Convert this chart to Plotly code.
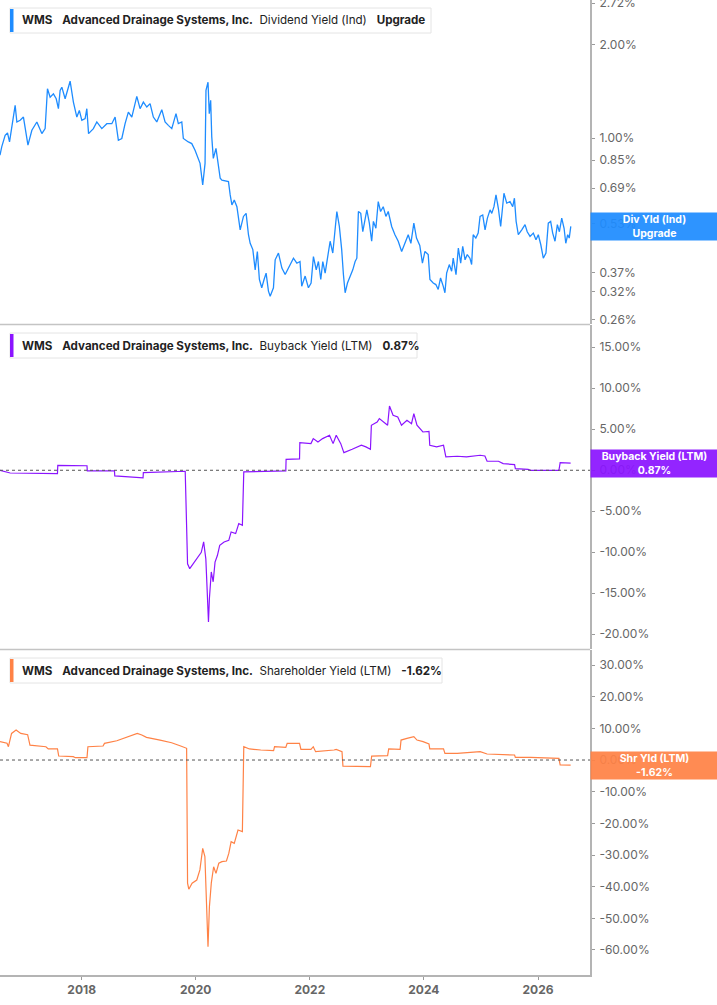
import math
import plotly.graph_objects as go

# ---- data ----
div_dates = [
    "2016-07-27", "2016-08-07", "2016-08-29", "2016-09-13", "2016-09-26", "2016-10-11", "2016-11-01", "2016-11-12",
    "2016-12-03", "2016-12-24", "2017-01-11", "2017-01-22", "2017-02-16", "2017-03-20", "2017-04-21", "2017-05-12",
    "2017-05-27", "2017-06-13", "2017-07-04", "2017-07-22", "2017-08-05", "2017-08-16", "2017-08-27", "2017-09-17",
    "2017-10-19", "2017-11-09", "2017-12-01", "2017-12-17", "2018-01-02", "2018-01-23", "2018-02-03", "2018-02-14",
    "2018-03-17", "2018-04-08", "2018-05-10", "2018-06-11", "2018-07-13", "2018-08-03", "2018-08-24", "2018-09-15",
    "2018-10-06", "2018-10-27", "2018-11-18", "2018-12-20", "2019-01-10", "2019-01-31", "2019-02-22", "2019-03-15",
    "2019-04-05", "2019-04-27", "2019-05-29", "2019-06-19", "2019-07-10", "2019-08-01", "2019-08-28", "2019-09-12",
    "2019-10-04", "2019-10-14", "2019-11-15", "2019-12-07", "2019-12-28", "2020-01-18", "2020-01-29", "2020-02-15",
    "2020-03-01", "2020-03-07", "2020-03-20", "2020-03-28", "2020-04-06", "2020-04-13", "2020-04-23", "2020-05-10",
    "2020-05-26", "2020-06-06", "2020-06-17", "2020-07-29", "2020-08-09", "2020-08-20", "2020-09-04", "2020-09-21",
    "2020-10-12", "2020-11-02", "2020-11-19", "2020-12-04", "2020-12-15", "2021-01-01", "2021-01-16", "2021-01-30",
    "2021-02-12", "2021-02-27", "2021-03-14", "2021-03-27", "2021-04-11", "2021-04-22", "2021-05-13", "2021-05-24",
    "2021-06-14", "2021-07-06", "2021-07-27", "2021-08-10", "2021-08-27", "2021-09-18", "2021-10-10", "2021-10-30",
    "2021-11-10", "2021-12-02", "2021-12-23", "2022-01-09", "2022-01-24", "2022-02-11", "2022-02-25", "2022-03-12",
    "2022-03-25", "2022-04-09", "2022-04-24", "2022-05-11", "2022-05-28", "2022-06-05", "2022-06-23", "2022-07-09",
    "2022-07-24", "2022-08-04", "2022-08-15", "2022-08-30", "2022-09-16", "2022-10-03", "2022-10-18", "2022-10-29",
    "2022-11-08", "2022-11-23", "2022-12-06", "2022-12-21", "2023-01-01", "2023-01-17", "2023-02-01", "2023-02-12",
    "2023-02-28", "2023-03-15", "2023-03-30", "2023-04-16", "2023-05-03", "2023-05-18", "2023-06-09", "2023-06-30",
    "2023-07-21", "2023-08-12", "2023-09-02", "2023-09-23", "2023-10-10", "2023-10-29", "2023-11-15", "2023-12-06",
    "2023-12-23", "2024-01-08", "2024-01-29", "2024-02-09", "2024-03-01", "2024-03-18", "2024-04-02", "2024-04-17",
    "2024-05-04", "2024-05-15", "2024-05-26", "2024-06-12", "2024-06-27", "2024-07-07", "2024-07-25", "2024-08-09",
    "2024-08-24", "2024-09-06", "2024-09-21", "2024-10-05", "2024-10-22", "2024-11-02", "2024-11-12", "2024-11-29",
    "2024-12-14", "2024-12-26", "2025-01-12", "2025-01-27", "2025-02-11", "2025-02-28", "2025-03-11", "2025-03-25",
    "2025-04-07", "2025-04-22", "2025-05-07", "2025-05-20", "2025-05-28", "2025-06-15", "2025-07-06", "2025-07-23",
    "2025-08-03", "2025-08-14", "2025-08-28", "2025-09-19", "2025-10-10", "2025-10-24", "2025-11-11", "2025-12-02",
    "2025-12-19", "2026-01-03", "2026-01-19", "2026-02-04", "2026-02-21", "2026-03-08", "2026-03-23", "2026-04-05",
    "2026-04-20", "2026-05-05", "2026-05-18", "2026-06-02", "2026-06-17", "2026-06-28", "2026-07-10", "2026-07-20",
    "2026-07-30",
]
div_yield = [
    0.882, 0.938, 1.022, 1.040, 0.973, 1.100, 1.276, 1.128,
    1.142, 1.170, 1.035, 0.950, 1.061, 1.128, 1.035, 1.074,
    1.443, 1.356, 1.390, 1.340, 1.245, 1.425, 1.460, 1.340,
    1.526, 1.307, 1.170, 1.229, 1.142, 1.157, 1.245, 1.035,
    1.074, 1.128, 1.074, 1.114, 1.114, 1.170, 0.985, 0.998,
    1.114, 1.214, 1.170, 1.364, 1.245, 1.307, 1.260, 1.292,
    1.170, 1.128, 1.236, 1.128, 1.100, 1.074, 1.200, 1.114,
    1.128, 0.998, 0.973, 0.961, 0.915, 0.861, 0.830, 0.707,
    0.830, 1.425, 1.515, 1.200, 1.324, 1.010, 0.861, 0.927,
    0.810, 0.743, 0.733, 0.725, 0.657, 0.610, 0.633, 0.602,
    0.507, 0.560, 0.573, 0.489, 0.459, 0.438, 0.377, 0.432,
    0.351, 0.330, 0.351, 0.368, 0.322, 0.310, 0.330, 0.406,
    0.427, 0.382, 0.364, 0.377, 0.392, 0.411, 0.396, 0.401,
    0.334, 0.360, 0.330, 0.342, 0.416, 0.377, 0.401, 0.351,
    0.401, 0.368, 0.411, 0.466, 0.427, 0.466, 0.581, 0.520,
    0.438, 0.364, 0.318, 0.342, 0.360, 0.377, 0.401, 0.411,
    0.581, 0.573, 0.500, 0.546, 0.588, 0.533, 0.466, 0.540,
    0.513, 0.625, 0.581, 0.602, 0.560, 0.581, 0.520, 0.489,
    0.466, 0.432, 0.459, 0.489, 0.459, 0.533, 0.477, 0.452,
    0.396, 0.432, 0.422, 0.351, 0.342, 0.338, 0.326, 0.355,
    0.334, 0.318, 0.368, 0.392, 0.373, 0.411, 0.364, 0.443,
    0.396, 0.449, 0.406, 0.422, 0.411, 0.392, 0.489, 0.477,
    0.495, 0.560, 0.566, 0.507, 0.553, 0.588, 0.573, 0.602,
    0.657, 0.595, 0.520, 0.633, 0.665, 0.618, 0.625, 0.602,
    0.641, 0.540, 0.489, 0.507, 0.527, 0.500, 0.483, 0.495,
    0.471, 0.489, 0.454, 0.411, 0.427, 0.533, 0.540, 0.495,
    0.466, 0.527, 0.500, 0.553, 0.513, 0.459, 0.489, 0.477,
    0.520,
]

buyback_dates = [
    "2016-07-27", "2016-09-30", "2017-07-30", "2017-08-01", "2018-02-04", "2018-02-06", "2018-07-30", "2018-08-01",
    "2019-01-29", "2019-01-31", "2019-10-26", "2019-11-10", "2019-11-24", "2019-12-24", "2020-01-22", "2020-02-06",
    "2020-02-21", "2020-03-06", "2020-03-14", "2020-03-23", "2020-03-29", "2020-04-10", "2020-04-22", "2020-05-04",
    "2020-05-19", "2020-06-03", "2020-07-01", "2020-07-31", "2020-08-15", "2020-09-13", "2020-10-03", "2020-10-26",
    "2020-11-04", "2021-07-31", "2021-08-02", "2021-10-27", "2021-10-29", "2022-01-08", "2022-01-23", "2022-02-22",
    "2022-03-24", "2022-05-07", "2022-05-30", "2022-06-19", "2022-07-18", "2022-08-07", "2022-09-29", "2022-11-27",
    "2022-12-26", "2023-01-24", "2023-01-30", "2023-03-08", "2023-03-22", "2023-04-21", "2023-05-14", "2023-05-26",
    "2023-06-18", "2023-07-18", "2023-08-11", "2023-09-15", "2023-10-14", "2023-10-29", "2023-11-18", "2023-12-26",
    "2024-02-03", "2024-02-08", "2024-03-23", "2024-05-06", "2024-05-21", "2024-08-02", "2024-09-30", "2024-12-27",
    "2025-01-26", "2025-02-09", "2025-04-23", "2025-05-23", "2025-08-04", "2025-08-09", "2025-10-30", "2025-11-14",
    "2026-05-15", "2026-05-23", "2026-07-29",
]
buyback_yield = [
    0.00, -0.33, -0.40, 0.60, 0.55, -0.08, -0.08, -0.69,
    -0.93, -0.29, -0.12, -11.4, -12.0, -11.2, -10.4, -10.0,
    -8.74, -10.8, -14.4, -18.5, -15.6, -12.4, -13.6, -11.2,
    -10.4, -9.15, -8.74, -8.54, -7.52, -7.72, -6.50, -6.70,
    -0.20, -0.08, 1.34, 1.40, 3.38, 3.25, 3.86, 3.45,
    3.86, 4.27, 3.25, 4.27, 3.25, 2.15, 2.56, 3.05,
    2.85, 2.56, 5.49, 5.89, 6.30, 5.89, 5.49, 7.84,
    6.70, 6.50, 5.49, 6.10, 5.69, 6.91, 5.49, 4.67,
    4.75, 3.05, 2.85, 3.05, 1.63, 1.71, 1.63, 1.83,
    1.75, 1.10, 1.10, 0.81, 0.69, 0.20, 0.12, 0.00,
    0.00, 0.93, 0.87,
]

shr_dates = [
    "2016-07-27", "2016-09-10", "2016-09-19", "2016-10-09", "2016-11-07", "2016-12-07", "2017-01-20", "2017-02-04",
    "2017-05-17", "2017-06-01", "2017-07-30", "2017-08-07", "2017-11-08", "2017-11-22", "2018-02-04", "2018-02-10",
    "2018-05-18", "2018-05-27", "2018-08-14", "2018-10-11", "2018-12-23", "2019-01-21", "2019-02-20", "2019-05-18",
    "2019-07-31", "2019-09-27", "2019-11-04", "2019-11-10", "2019-11-18", "2019-12-09", "2020-01-08", "2020-01-28",
    "2020-02-15", "2020-02-29", "2020-03-12", "2020-03-20", "2020-03-29", "2020-04-10", "2020-04-25", "2020-05-10",
    "2020-05-28", "2020-06-17", "2020-07-16", "2020-07-31", "2020-08-15", "2020-09-04", "2020-09-28", "2020-10-26",
    "2020-11-04", "2020-12-10", "2021-02-21", "2021-05-14", "2021-05-20", "2021-07-31", "2021-08-09", "2021-10-27",
    "2021-11-05", "2022-01-08", "2022-01-23", "2022-02-07", "2022-06-05", "2022-06-19", "2022-07-26", "2022-08-01",
    "2023-01-24", "2023-02-01", "2023-05-14", "2023-05-21", "2023-08-02", "2023-08-08", "2023-09-15", "2023-10-14",
    "2023-10-29", "2023-11-18", "2023-12-27", "2024-02-03", "2024-02-08", "2024-05-06", "2024-05-15", "2024-08-02",
    "2024-12-27", "2025-02-09", "2025-05-23", "2025-08-04", "2025-08-09", "2025-11-14", "2026-05-15", "2026-05-23",
    "2026-07-29",
]
shr_yield = [
    5.80, 5.30, 4.20, 8.40, 9.50, 8.40, 8.00, 4.70,
    4.20, 3.50, 3.50, 1.26, 1.05, 0.74, 0.74, 4.20,
    4.42, 5.26, 6.10, 7.16, 8.42, 7.90, 7.16, 6.30,
    5.47, 4.42, 3.70, -38.9, -40.8, -38.9, -37.9, -34.7,
    -27.9, -30.5, -46.3, -59.0, -46.3, -38.9, -33.7, -35.8,
    -32.6, -32.1, -31.9, -29.5, -25.8, -26.3, -22.1, -22.6,
    4.20, 3.50, 3.16, 2.95, 4.20, 4.00, 5.26, 5.26,
    3.37, 3.37, 4.20, 2.63, 3.16, 3.37, 2.63, -1.90,
    -2.10, 1.26, 1.37, 3.50, 3.37, 6.30, 6.85, 7.20,
    7.37, 6.30, 5.80, 5.05, 3.50, 3.50, 2.10, 2.10,
    2.63, 1.90, 1.58, 1.58, 0.84, 0.84, 0.53, -1.58,
    -1.62,
]

div_ticks = [2.72, 2.00, 1.00, 0.85, 0.69, 0.53, 0.37, 0.32, 0.26]
buyback_ticks = [15, 10, 5, 0, -5, -10, -15, -20]
shr_ticks = [30, 20, 10, 0, -10, -20, -30, -40, -50, -60]
year_ticks = ["2018-01-01", "2020-01-01", "2022-01-01", "2024-01-01", "2026-01-01"]

BLUE = "#1e8cff"
PURPLE = "#8b14ff"
ORANGE = "#ff8246"
FONT = "Inter"
PLOT_W = 590.0
PLOT_H = 975.0

fig = go.Figure()
fig.add_trace(go.Scatter(x=div_dates, y=div_yield, mode="lines", line=dict(color=BLUE, width=1.3),
                         xaxis="x", yaxis="y"))
fig.add_trace(go.Scatter(x=buyback_dates, y=buyback_yield, mode="lines", line=dict(color=PURPLE, width=1.2),
                         xaxis="x", yaxis="y2"))
fig.add_trace(go.Scatter(x=shr_dates, y=shr_yield, mode="lines", line=dict(color=ORANGE, width=1.2),
                         xaxis="x", yaxis="y3"))

axis_common = dict(side="right", anchor="x", showgrid=False, zeroline=False, showline=True,
                   linecolor="#b4b4b4", linewidth=2, ticks="outside", ticklen=3, tickcolor="#9a9a9a",
                   ticklabelstandoff=2, ticklabeloverflow="allow", automargin=False,
                   tickfont=dict(family=FONT, size=12, color="#666666"), fixedrange=True)

fig.update_layout(
    width=717, height=1005,
    margin=dict(l=0, r=127, t=0, b=30, autoexpand=False),
    paper_bgcolor="white", plot_bgcolor="white",
    showlegend=False,
    font=dict(family=FONT),
    xaxis=dict(type="date", range=["2016-07-27", "2026-11-30"], anchor="y3", showgrid=False,
               zeroline=False, showline=True, linecolor="#b4b4b4", linewidth=2, automargin=False,
               tickvals=year_ticks, ticktext=[f"<b>{d[:4]}</b>" for d in year_ticks], ticks="outside",
               ticklen=3, tickcolor="#9a9a9a", tickfont=dict(family=FONT, size=12, color="#666666")),
    yaxis=dict(type="log", domain=[0.6677, 1.0], range=[-0.598, 0.445],
               tickvals=div_ticks, ticktext=[f"{v:.2f}%" for v in div_ticks], **axis_common),
    yaxis2=dict(domain=[0.3344, 0.6667], range=[-21.79, 17.72],
                tickvals=buyback_ticks, ticktext=[f"{v:.2f}%" for v in buyback_ticks], **axis_common),
    yaxis3=dict(domain=[0.0, 0.3333], range=[-67.9, 34.74],
                tickvals=shr_ticks, ticktext=[f"{v:.2f}%" for v in shr_ticks], **axis_common),
)


def py(px):
    # pixel from top of plot area -> paper y
    return (PLOT_H - px) / PLOT_H


shapes = []
# panel separators
for px in (324.5, 649.5):
    shapes.append(dict(type="line", xref="paper", yref="paper", x0=0, x1=1, y0=py(px), y1=py(px),
                       line=dict(color="#c4c4c4", width=1.5)))
# dotted zero lines
for yr in ("y2", "y3"):
    shapes.append(dict(type="line", xref="paper", yref=yr, x0=0, x1=1, y0=0, y1=0,
                       line=dict(color="#555555", width=1, dash="dot")))

annotations = []
# header boxes: (metric, value, colour, panel top px, box right px)
headers = [
    ("Dividend Yield (Ind)", "Upgrade", BLUE, 0, 431),
    ("Buyback Yield (LTM)", "0.87%", PURPLE, 325, 417),
    ("Shareholder Yield (LTM)", "-1.62%", ORANGE, 650, 442),
]
for metric, value, color, top, right in headers:
    shapes.append(dict(type="rect", xref="paper", yref="paper", x0=10 / PLOT_W, x1=right / PLOT_W,
                       y0=py(top + 33), y1=py(top + 8), fillcolor="white",
                       line=dict(color="#e4e4e4", width=1)))
    shapes.append(dict(type="rect", xref="paper", yref="paper", x0=10 / PLOT_W, x1=13.5 / PLOT_W,
                       y0=py(top + 32), y1=py(top + 9), fillcolor=color, line=dict(width=0)))
    annotations.append(dict(
        xref="paper", yref="paper", x=20 / PLOT_W, y=py(top + 20.5), xanchor="left", yanchor="middle",
        text=f"<b>WMS</b>&nbsp;&nbsp;&nbsp;<b>Advanced Drainage Systems, Inc.</b>&nbsp;&nbsp;"
             f"{metric}&nbsp;&nbsp;&nbsp;<b>{value}</b>",
        showarrow=False, font=dict(family=FONT, size=11.6, color="#222222")))

# value boxes on the right axis
boxes = [
    ("Div Yld (Ind)<br>Upgrade", "y", math.log10(div_yield[-1]), "rgba(30,140,255,0.93)"),
    ("Buyback Yield (LTM)<br>0.87%", "y2", buyback_yield[-1], "rgba(139,20,255,0.93)"),
    ("Shr Yld (LTM)<br>-1.62%", "y3", shr_yield[-1], "rgba(255,130,70,0.93)"),
]
for text, yr, yv, bg in boxes:
    annotations.append(dict(
        xref="paper", yref=yr, x=1.0, y=yv, xanchor="left", yanchor="middle",
        text=f"<b>{text}</b>", showarrow=False, align="center",
        font=dict(family=FONT, size=10.5, color="white"),
        width=127, bgcolor=bg, borderpad=0))

fig.update_layout(shapes=shapes, annotations=annotations)

fig.write_html("out.html", config={"displayModeBar": False},
               post_script="document.body.style.margin='0';")
